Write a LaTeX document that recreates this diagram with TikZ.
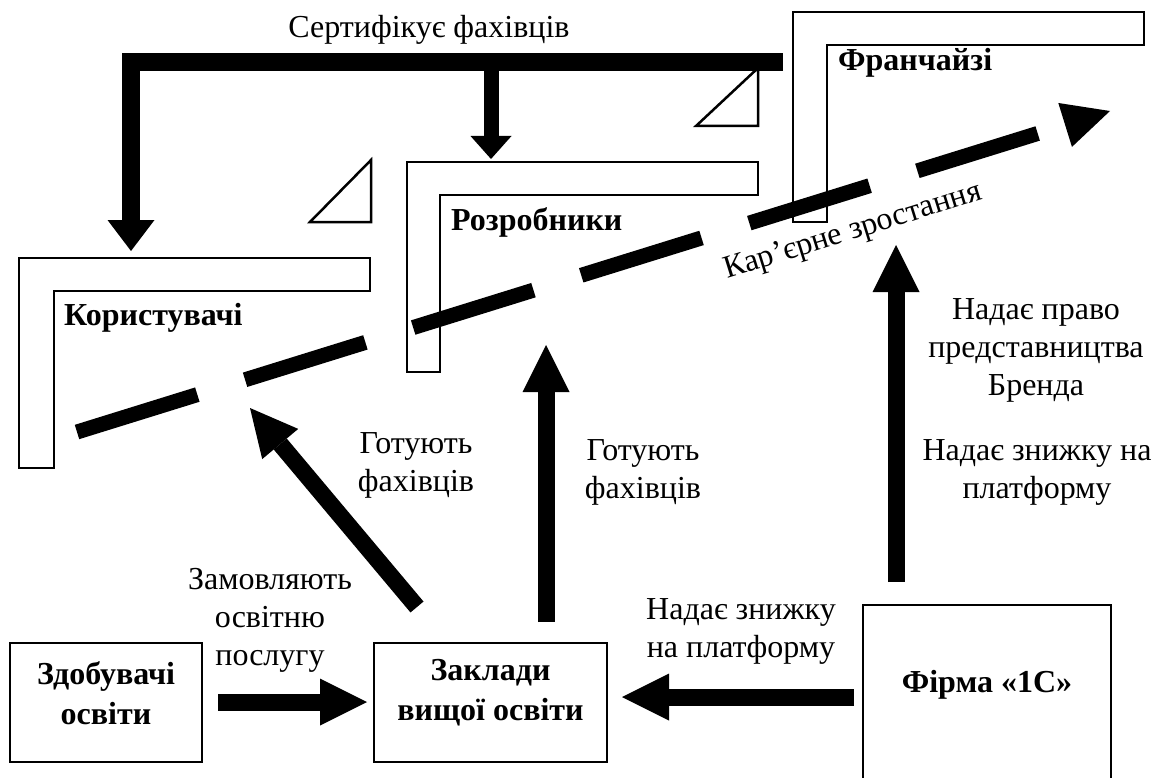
\documentclass[tikz,border=0pt]{standalone}
\usepackage{fontspec}
\setmainfont{Liberation Serif}
\usetikzlibrary{arrows.meta}
\begin{document}
\begin{tikzpicture}[x=1pt,y=-1pt,
  lshape/.style={draw,line width=2.5pt,fill=white,line join=miter},
  tri/.style={draw,line width=2.5pt,fill=white,line join=miter},
  box/.style={draw,line width=2.5pt,inner sep=0pt},
  lbl/.style={font=\fontsize{32pt}{38pt}\selectfont,align=center,inner sep=0pt},
  blbl/.style={font=\fontsize{32pt}{40pt}\selectfont\bfseries,align=center,inner sep=0pt},
  bigarrow/.style={line width=17pt,-{Triangle[length=47pt,width=47pt,line width=0pt]}},
  topbar/.style={line width=18pt,line join=miter},
  career/.style={line width=15pt,dash pattern=on 126pt off 50pt,-{Triangle[length=47pt,width=46pt,line width=0pt]}}
]
\useasboundingbox (0,0) rectangle (1156,778);

% L-shaped groups
\draw[lshape] (19,258) -- (370,258) -- (370,291) -- (54,291) -- (54,468) -- (19,468) -- cycle;
\draw[lshape] (407,162) -- (758,162) -- (758,195) -- (440,195) -- (440,372) -- (407,372) -- cycle;
\draw[lshape] (793,12) -- (1144,12) -- (1144,45) -- (827,45) -- (827,222) -- (793,222) -- cycle;

% triangles
\draw[tri] (696,126) -- (758,126) -- (758,68) -- cycle;
\draw[tri] (310,222) -- (371,222) -- (371,160) -- cycle;

% group labels
\node[blbl,anchor=west] (kor) at (64,318) {Користувачі};
\node[blbl,anchor=west] (roz) at (451,222) {Розробники};
\node[blbl,anchor=west] (fra) at (838,63) {Франчайзі};

% boxes
\node[box,minimum width=192pt,minimum height=119pt] (zdob) at (106,702.5) {};
\node[blbl] (zdobt) at (106,693) {Здобувачі\\освіти};
\node[box,minimum width=233pt,minimum height=119pt] (zakl) at (490.5,702.5) {};
\node[blbl] (zaklt) at (490.5,693) {Заклади\\вищої освіти};
\node[box,minimum width=248pt,minimum height=200pt] (firm) at (987,705) {};
\node[blbl] (firmt) at (987,685) {Фірма «1С»};

% coordinates for connectors
\coordinate (cS) at (77,432);
\coordinate (cE) at (1110,111);
\coordinate (barR) at (783,62);
\coordinate (barL) at (131,62);
\coordinate (korTop) at (131,251);
\coordinate (brJ) at (491,62);
\coordinate (rozTop) at (491,159);
\coordinate (zdobOut) at (218,702);
\coordinate (zaklIn) at (367,702);
\coordinate (firmOut) at (854,697);
\coordinate (zaklIn2) at (622,697);
\coordinate (zaklUp) at (546,622);
\coordinate (rozBot) at (546,345);
\coordinate (zaklDiag) at (417,607);
\coordinate (korBot) at (250,408);
\coordinate (firmUp) at (896,582);
\coordinate (fraBot) at (896,245);

% career growth dashed arrow
\draw[career] (cS) -- (cE);
\node[lbl,rotate=17.3] (kar) at (853,232) {Кар’єрне зростання};

% certification bar
\draw[topbar,-{Triangle[length=31pt,width=47pt,line width=0pt]}] (barR) -- (barL) -- (korTop);
\draw[line width=15pt,-{Triangle[length=23pt,width=41pt,line width=0pt]}] (brJ) -- (rozTop);
\node[lbl] (cert) at (429,30) {Сертифікує фахівців};

% arrows
\draw[bigarrow] (zdobOut) -- (zaklIn);
\draw[bigarrow] (firmOut) -- (zaklIn2);
\draw[bigarrow] (zaklUp) -- (rozBot);
\draw[bigarrow] (zaklDiag) -- (korBot);
\draw[bigarrow] (firmUp) -- (fraBot);

% arrow labels
\node[lbl] (l1) at (270,620) {Замовляють\\освітню\\послугу};
\node[lbl] (l2) at (416,465) {Готують\\фахівців};
\node[lbl] (l3) at (643,472) {Готують\\фахівців};
\node[lbl] (l4) at (741,631) {Надає знижку\\на платформу};
\node[lbl] (l5) at (1036,350) {Надає право\\представництва\\Бренда};
\node[lbl] (l6) at (1037,472) {Надає знижку на\\платформу};
\end{tikzpicture}
\end{document}
